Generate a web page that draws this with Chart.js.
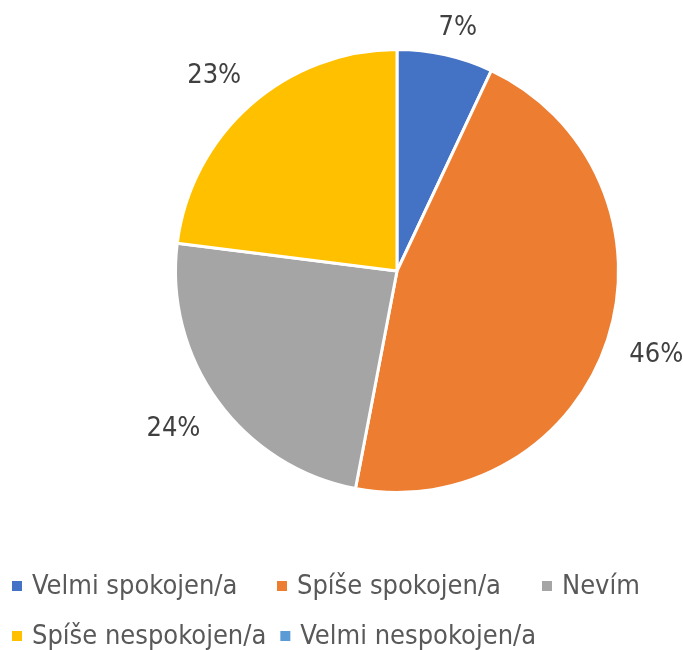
<!DOCTYPE html>
<html>
<head>
<meta charset="utf-8">
<script src="https://cdn.jsdelivr.net/npm/chart.js@4"></script>
<style>
  html, body { margin: 0; padding: 0; background: #fff; }
  #wrap { width: 683px; height: 650px; }
</style>
</head>
<body>
<div id="wrap"><canvas id="myChart" width="683" height="650"></canvas></div>
<script>
const ctx = document.getElementById('myChart');

// data
const categories = ['Velmi spokojen/a', 'Spíše spokojen/a', 'Nevím', 'Spíše nespokojen/a', 'Velmi nespokojen/a'];
const shares = [7, 46, 24, 23, 0];
const sliceColors = ['#4472C4', '#ED7D31', '#A5A5A5', '#FFC000', '#5B9BD5'];

const FONT = "'Liberation Sans Narrow', 'DejaVu Sans Condensed', 'Liberation Sans', sans-serif";

// percentage labels outside the slices, like Excel's "outside end"
const outsideLabels = {
  id: 'outsideLabels',
  afterDatasetsDraw(chart) {
    const c = chart.ctx;
    const meta = chart.getDatasetMeta(0);
    c.save();
    c.font = '27px ' + FONT;
    c.fillStyle = '#404040';
    c.textAlign = 'center';
    c.textBaseline = 'middle';
    meta.data.forEach((arc, i) => {
      if (!shares[i]) return;
      const p = arc.getProps(['x', 'y', 'startAngle', 'endAngle', 'outerRadius'], true);
      const mid = (p.startAngle + p.endAngle) / 2;
      const dx = Math.cos(mid), dy = Math.sin(mid);
      const txt = shares[i] + '%';
      const hw = c.measureText(txt).width / 2, hh = 10;
      const dist = p.outerRadius + 16 + Math.abs(dx) * hw + Math.abs(dy) * hh;
      const nudge = dx >= 0 ? 6 : -9;
      c.fillText(txt, p.x + dx * dist + nudge, p.y + dy * dist + 2);
    });
    c.restore();
  }
};

// legend in two rows at the bottom
const bottomLegend = {
  id: 'bottomLegend',
  afterDraw(chart) {
    const c = chart.ctx;
    const rows = [[0, 1, 2], [3, 4]];
    const rowY = [586, 636];
    c.save();
    c.font = '27px ' + FONT;
    c.textBaseline = 'middle';
    rows.forEach((row, r) => {
      let prevEnd = -Infinity;
      row.forEach((idx, col) => {
        const x = Math.max(12 + col * 265, prevEnd + 14);
        c.fillStyle = sliceColors[idx];
        c.fillRect(x, rowY[r] - 5, 10, 10);
        c.fillStyle = '#595959';
        c.textAlign = 'left';
        c.fillText(categories[idx], x + 20, rowY[r] + 1);
        prevEnd = x + 20 + c.measureText(categories[idx]).width;
      });
    });
    c.restore();
  }
};

new Chart(ctx, {
  type: 'pie',
  data: {
    labels: categories,
    datasets: [{
      data: shares,
      backgroundColor: sliceColors,
      borderColor: '#ffffff',
      borderWidth: 3
    }]
  },
  options: {
    responsive: false,
    animation: false,
    layout: {
      padding: { left: 174, right: 63, top: 48, bottom: 156 }
    },
    plugins: {
      legend: { display: false },
      tooltip: { enabled: false }
    }
  },
  plugins: [outsideLabels, bottomLegend]
});
</script>
</body>
</html>
